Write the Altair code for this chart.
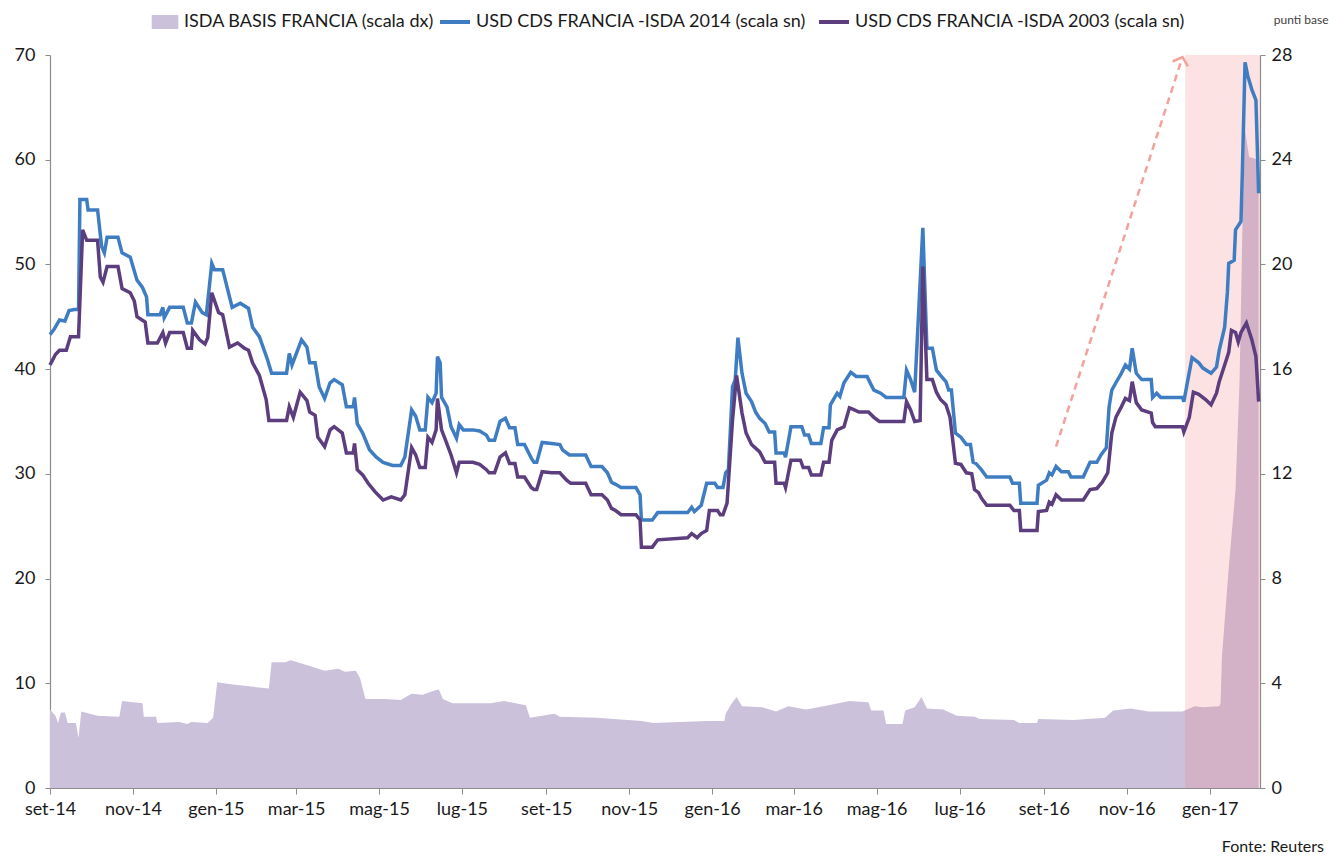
import altair as alt
import pandas as pd

# ---------------- data ----------------
name_basis = "ISDA BASIS FRANCIA (scala dx)"
name_14 = "USD CDS FRANCIA -ISDA 2014 (scala sn)"
name_03 = "USD CDS FRANCIA -ISDA 2003 (scala sn)"

cds14_dates = [
    "2014-09-01", "2014-09-04", "2014-09-08", "2014-09-12", "2014-09-15", "2014-09-19", "2014-09-22",
    "2014-09-23", "2014-09-28", "2014-09-29", "2014-10-06", "2014-10-09", "2014-10-11", "2014-10-13",
    "2014-10-21", "2014-10-24", "2014-10-30", "2014-11-04", "2014-11-08", "2014-11-11", "2014-11-12",
    "2014-11-21", "2014-11-23", "2014-11-24", "2014-11-28", "2014-12-08", "2014-12-11", "2014-12-14",
    "2014-12-17", "2014-12-22", "2014-12-25", "2014-12-29", "2014-12-31", "2015-01-06", "2015-01-13",
    "2015-01-19", "2015-01-25", "2015-01-28", "2015-02-02", "2015-02-08", "2015-02-11", "2015-02-22",
    "2015-02-24", "2015-02-26", "2015-03-05", "2015-03-09", "2015-03-11", "2015-03-15", "2015-03-18",
    "2015-03-22", "2015-03-26", "2015-03-29", "2015-04-04", "2015-04-07", "2015-04-12", "2015-04-13",
    "2015-04-15", "2015-04-19", "2015-04-24", "2015-04-29", "2015-05-04", "2015-05-11", "2015-05-17",
    "2015-05-20", "2015-05-25", "2015-05-28", "2015-05-31", "2015-06-04", "2015-06-06", "2015-06-09",
    "2015-06-12", "2015-06-13", "2015-06-15", "2015-06-16", "2015-06-20", "2015-06-23", "2015-06-27",
    "2015-06-29", "2015-07-02", "2015-07-09", "2015-07-14", "2015-07-19", "2015-07-21", "2015-07-25",
    "2015-07-29", "2015-08-02", "2015-08-05", "2015-08-09", "2015-08-11", "2015-08-16", "2015-08-21",
    "2015-08-23", "2015-08-25", "2015-08-29", "2015-09-05", "2015-09-11", "2015-09-13", "2015-09-18",
    "2015-09-30", "2015-10-04", "2015-10-12", "2015-10-16", "2015-10-19", "2015-10-22", "2015-10-26",
    "2015-11-06", "2015-11-09", "2015-11-10", "2015-11-18", "2015-11-22", "2015-12-14", "2015-12-17",
    "2015-12-19", "2015-12-24", "2015-12-28", "2016-01-03", "2016-01-05", "2016-01-09", "2016-01-11",
    "2016-01-13", "2016-01-16", "2016-01-18", "2016-01-20", "2016-01-23", "2016-01-26", "2016-01-30",
    "2016-02-02", "2016-02-05", "2016-02-09", "2016-02-12", "2016-02-16", "2016-02-17", "2016-02-23",
    "2016-02-24", "2016-02-28", "2016-03-07", "2016-03-09", "2016-03-12", "2016-03-14", "2016-03-21",
    "2016-03-23", "2016-03-27", "2016-03-28", "2016-04-02", "2016-04-04", "2016-04-07", "2016-04-12",
    "2016-04-16", "2016-04-24", "2016-04-27", "2016-04-29", "2016-05-04", "2016-05-08", "2016-05-21",
    "2016-05-23", "2016-05-26", "2016-05-29", "2016-06-04", "2016-06-07", "2016-06-11", "2016-06-14",
    "2016-06-17", "2016-06-21", "2016-06-23", "2016-06-25", "2016-06-28", "2016-07-02", "2016-07-06",
    "2016-07-09", "2016-07-11", "2016-07-13", "2016-07-17", "2016-07-21", "2016-08-07", "2016-08-09",
    "2016-08-14", "2016-08-15", "2016-08-27", "2016-08-28", "2016-09-03", "2016-09-05", "2016-09-07",
    "2016-09-10", "2016-09-14", "2016-09-19", "2016-09-21", "2016-09-30", "2016-10-05", "2016-10-10",
    "2016-10-13", "2016-10-17", "2016-10-19", "2016-10-21", "2016-10-24", "2016-10-28", "2016-10-31",
    "2016-11-03", "2016-11-05", "2016-11-08", "2016-11-12", "2016-11-19", "2016-11-20", "2016-11-23",
    "2016-11-26", "2016-12-12", "2016-12-13", "2016-12-15", "2016-12-19", "2016-12-24", "2016-12-27",
    "2017-01-02", "2017-01-06", "2017-01-08", "2017-01-12", "2017-01-14", "2017-01-15", "2017-01-19",
    "2017-01-20", "2017-01-24", "2017-01-25", "2017-01-27", "2017-01-29", "2017-02-01", "2017-02-04",
    "2017-02-06",
]
cds14_vals = [
    43.3, 43.8, 44.7, 44.6, 45.6, 45.7, 45.7,
    56.2, 56.2, 55.2, 55.2, 51.7, 51.1, 52.6,
    52.6, 51.1, 50.7, 48.5, 47.8, 46.9, 45.2,
    45.2, 45.9, 44.9, 45.9, 45.9, 44.4, 44.4,
    46.4, 45.4, 45.2, 50.1, 49.5, 49.5, 45.9,
    46.3, 45.8, 44.0, 43.1, 40.9, 39.6, 39.6,
    41.5, 40.4, 42.8, 42.1, 40.6, 40.6, 38.3,
    37.2, 38.7, 39.0, 38.5, 36.4, 36.4, 37.3,
    34.8, 33.9, 32.3, 31.6, 31.1, 30.8, 30.8,
    31.6, 36.1, 35.5, 34.2, 34.2, 37.3, 36.8,
    37.7, 41.2, 40.6, 37.3, 36.4, 34.5, 33.4,
    34.7, 34.2, 34.2, 34.1, 33.7, 33.2, 33.2,
    35.0, 35.3, 34.4, 34.4, 32.8, 32.8, 31.5,
    31.1, 31.1, 33.0, 32.9, 32.8, 32.3, 31.8,
    31.8, 30.7, 30.7, 30.1, 29.2, 29.0, 28.7,
    28.7, 28.0, 25.6, 25.6, 26.3, 26.3, 26.8,
    26.4, 27.0, 29.1, 29.1, 28.7, 28.7, 30.1,
    30.4, 38.3, 39.0, 43.0, 39.6, 37.7, 36.9,
    35.9, 35.3, 34.8, 34.0, 34.0, 32.0, 32.0,
    31.6, 34.5, 34.5, 33.7, 33.7, 32.9, 32.9,
    34.4, 34.4, 36.6, 37.7, 37.4, 38.7, 39.7,
    39.3, 39.3, 38.5, 38.0, 37.7, 37.3, 37.3,
    39.9, 39.0, 37.8, 53.5, 42.0, 42.0, 39.9,
    39.4, 38.8, 38.0, 38.0, 33.9, 33.5, 32.8,
    32.8, 31.1, 31.0, 30.4, 29.7, 29.7, 29.1,
    29.1, 27.2, 27.2, 28.9, 29.4, 30.1, 29.9,
    30.7, 30.2, 30.2, 29.7, 29.7, 31.1, 31.1,
    31.8, 32.5, 36.4, 38.0, 38.7, 39.6, 40.4,
    40.0, 42.0, 39.6, 39.0, 39.0, 37.3, 37.7,
    37.3, 37.3, 36.9, 38.3, 41.1, 40.6, 40.1,
    39.6, 40.2, 41.8, 44.0, 47.3, 50.1, 50.4,
    53.3, 54.1, 58.7, 69.3, 68.0, 66.7, 65.7,
    56.8,
]

cds03_dates = [
    "2014-09-01", "2014-09-05", "2014-09-08", "2014-09-13", "2014-09-16", "2014-09-22", "2014-09-25",
    "2014-09-28", "2014-10-06", "2014-10-08", "2014-10-10", "2014-10-13", "2014-10-21", "2014-10-24",
    "2014-10-30", "2014-11-02", "2014-11-04", "2014-11-10", "2014-11-12", "2014-11-19", "2014-11-23",
    "2014-11-25", "2014-11-28", "2014-12-08", "2014-12-11", "2014-12-14", "2014-12-15", "2014-12-20",
    "2014-12-24", "2014-12-26", "2014-12-29", "2015-01-03", "2015-01-06", "2015-01-11", "2015-01-17",
    "2015-01-22", "2015-01-25", "2015-01-28", "2015-02-02", "2015-02-07", "2015-02-09", "2015-02-22",
    "2015-02-24", "2015-02-27", "2015-03-04", "2015-03-09", "2015-03-11", "2015-03-15", "2015-03-17",
    "2015-03-22", "2015-03-26", "2015-03-29", "2015-04-04", "2015-04-07", "2015-04-12", "2015-04-13",
    "2015-04-15", "2015-04-19", "2015-04-23", "2015-04-28", "2015-05-04", "2015-05-10", "2015-05-17",
    "2015-05-20", "2015-05-25", "2015-05-28", "2015-05-31", "2015-06-04", "2015-06-06", "2015-06-09",
    "2015-06-12", "2015-06-13", "2015-06-16", "2015-06-19", "2015-06-23", "2015-06-27", "2015-06-29",
    "2015-07-09", "2015-07-14", "2015-07-19", "2015-07-21", "2015-07-25", "2015-07-29", "2015-08-02",
    "2015-08-05", "2015-08-09", "2015-08-11", "2015-08-16", "2015-08-21", "2015-08-23", "2015-08-25",
    "2015-08-29", "2015-09-05", "2015-09-11", "2015-09-16", "2015-09-19", "2015-09-30", "2015-10-04",
    "2015-10-12", "2015-10-16", "2015-10-19", "2015-10-22", "2015-10-26", "2015-11-06", "2015-11-09",
    "2015-11-10", "2015-11-18", "2015-11-22", "2015-12-14", "2015-12-17", "2015-12-21", "2015-12-24",
    "2015-12-28", "2015-12-30", "2016-01-05", "2016-01-07", "2016-01-09", "2016-01-12", "2016-01-16",
    "2016-01-19", "2016-01-23", "2016-01-26", "2016-01-30", "2016-02-05", "2016-02-09", "2016-02-16",
    "2016-02-17", "2016-02-23", "2016-02-24", "2016-02-28", "2016-03-06", "2016-03-08", "2016-03-12",
    "2016-03-14", "2016-03-21", "2016-03-23", "2016-03-27", "2016-03-29", "2016-04-02", "2016-04-07",
    "2016-04-11", "2016-04-13", "2016-04-18", "2016-04-25", "2016-04-29", "2016-05-03", "2016-05-21",
    "2016-05-23", "2016-05-26", "2016-05-29", "2016-06-02", "2016-06-04", "2016-06-07", "2016-06-11",
    "2016-06-14", "2016-06-17", "2016-06-21", "2016-06-24", "2016-06-28", "2016-07-02", "2016-07-06",
    "2016-07-10", "2016-07-12", "2016-07-15", "2016-07-17", "2016-07-21", "2016-08-07", "2016-08-10",
    "2016-08-14", "2016-08-15", "2016-08-27", "2016-08-28", "2016-09-03", "2016-09-05", "2016-09-07",
    "2016-09-10", "2016-09-14", "2016-09-30", "2016-10-05", "2016-10-10", "2016-10-14", "2016-10-18",
    "2016-10-21", "2016-10-24", "2016-10-28", "2016-10-31", "2016-11-03", "2016-11-05", "2016-11-08",
    "2016-11-12", "2016-11-19", "2016-11-20", "2016-11-22", "2016-12-12", "2016-12-13", "2016-12-17",
    "2016-12-20", "2016-12-24", "2016-12-29", "2017-01-02", "2017-01-06", "2017-01-08", "2017-01-12",
    "2017-01-15", "2017-01-17", "2017-01-20", "2017-01-22", "2017-01-24", "2017-01-28", "2017-02-01",
    "2017-02-04", "2017-02-06",
]
cds03_vals = [
    40.4, 41.4, 41.8, 41.8, 43.1, 43.1, 53.3,
    52.3, 52.3, 48.8, 48.3, 49.8, 49.8, 47.7,
    47.3, 46.5, 45.0, 44.5, 42.5, 42.5, 43.5,
    42.5, 43.5, 43.5, 42.0, 42.0, 43.7, 42.8,
    42.4, 43.0, 47.3, 45.4, 45.2, 42.1, 42.5,
    42.0, 41.8, 40.6, 39.4, 37.1, 35.1, 35.1,
    36.4, 35.4, 37.8, 37.0, 35.9, 35.6, 33.5,
    32.6, 34.2, 34.5, 33.9, 32.0, 32.0, 32.9,
    30.4, 29.9, 29.1, 28.3, 27.5, 27.8, 27.5,
    28.0, 32.5, 31.8, 30.6, 30.6, 33.5, 33.0,
    34.2, 37.2, 34.2, 33.2, 31.8, 30.1, 31.1,
    31.1, 30.9, 30.4, 30.1, 30.1, 31.6, 32.0,
    31.0, 31.0, 29.7, 29.7, 28.7, 28.5, 28.5,
    30.2, 30.1, 30.1, 29.4, 29.1, 29.1, 28.0,
    28.0, 27.5, 26.7, 26.5, 26.1, 26.1, 25.6,
    23.0, 23.0, 23.7, 23.9, 24.3, 23.9, 24.3,
    24.6, 26.5, 26.5, 26.1, 26.1, 27.2, 35.1,
    39.4, 35.8, 33.9, 32.8, 32.1, 31.1, 31.1,
    29.1, 29.1, 28.7, 31.3, 31.3, 30.6, 30.6,
    29.9, 29.9, 31.1, 31.1, 33.2, 34.2, 34.5,
    36.3, 36.2, 35.9, 35.9, 35.4, 35.0, 35.0,
    36.9, 36.1, 35.0, 35.1, 49.8, 39.0, 39.0,
    37.8, 37.1, 36.6, 35.4, 31.0, 30.9, 30.1,
    30.0, 28.5, 28.2, 27.7, 27.0, 27.0, 26.5,
    26.5, 24.6, 24.6, 26.4, 26.5, 27.3, 27.1,
    28.0, 27.5, 27.5, 28.5, 28.6, 29.2, 30.1,
    33.9, 35.4, 36.4, 37.2, 37.0, 38.8, 36.8,
    36.1, 35.8, 34.9, 34.5, 34.5, 34.0, 35.4,
    37.8, 37.6, 37.1, 36.6, 37.7, 38.8, 40.4,
    41.6, 43.7, 43.5, 42.6, 43.5, 44.4, 42.8,
    41.2, 36.9,
]

basis_dates = [
    "2014-09-01", "2014-09-05", "2014-09-07", "2014-09-09", "2014-09-12", "2014-09-14", "2014-09-20",
    "2014-09-22", "2014-09-24", "2014-10-06", "2014-10-22", "2014-10-24", "2014-11-08", "2014-11-09",
    "2014-11-18", "2014-11-19", "2014-12-05", "2014-12-11", "2014-12-14", "2014-12-26", "2014-12-30",
    "2015-01-02", "2015-01-12", "2015-02-09", "2015-02-11", "2015-02-21", "2015-02-25", "2015-03-10",
    "2015-03-22", "2015-04-01", "2015-04-06", "2015-04-14", "2015-04-17", "2015-04-21", "2015-05-05",
    "2015-05-17", "2015-05-25", "2015-06-02", "2015-06-11", "2015-06-14", "2015-06-17", "2015-06-24",
    "2015-07-22", "2015-08-01", "2015-08-17", "2015-08-20", "2015-08-29", "2015-09-07", "2015-09-11",
    "2015-10-08", "2015-11-10", "2015-11-19", "2015-12-28", "2016-01-10", "2016-01-11", "2016-01-15",
    "2016-01-19", "2016-01-23", "2016-02-07", "2016-02-17", "2016-02-26", "2016-03-10", "2016-03-23",
    "2016-04-11", "2016-04-25", "2016-04-27", "2016-05-06", "2016-05-08", "2016-05-20", "2016-05-22",
    "2016-05-29", "2016-06-03", "2016-06-07", "2016-06-19", "2016-06-29", "2016-07-12", "2016-07-16",
    "2016-08-10", "2016-08-14", "2016-08-27", "2016-08-28", "2016-09-23", "2016-10-16", "2016-10-22",
    "2016-11-04", "2016-11-17", "2016-12-12", "2016-12-21", "2016-12-27", "2017-01-08", "2017-01-09",
    "2017-01-10", "2017-01-15", "2017-01-20", "2017-01-23", "2017-01-25", "2017-01-27", "2017-01-30",
    "2017-02-06",
]
basis_vals = [
    3.00, 2.76, 2.48, 2.88, 2.88, 2.48, 2.48,
    1.92, 2.92, 2.76, 2.72, 3.32, 3.24, 2.72,
    2.72, 2.48, 2.52, 2.44, 2.52, 2.48, 2.68,
    4.04, 3.96, 3.80, 4.80, 4.80, 4.88, 4.68,
    4.48, 4.56, 4.44, 4.48, 4.20, 3.40, 3.40,
    3.36, 3.60, 3.56, 3.72, 3.76, 3.40, 3.24,
    3.24, 3.32, 3.16, 2.68, 2.76, 2.84, 2.72,
    2.68, 2.56, 2.48, 2.56, 2.56, 2.84, 3.20,
    3.48, 3.12, 3.08, 2.92, 3.12, 3.00, 3.12,
    3.32, 3.28, 2.96, 2.96, 2.44, 2.44, 2.96,
    3.08, 3.48, 3.04, 3.00, 2.76, 2.72, 2.64,
    2.60, 2.48, 2.48, 2.64, 2.60, 2.68, 2.96,
    3.04, 2.92, 2.92, 3.12, 3.08, 3.12, 3.24,
    5.00, 8.40, 11.40, 15.60, 21.20, 25.10, 24.10,
    24.00,
]

highlight_start = ["2016-12-14"]
highlight_end = ["2017-02-07"]
arrow_dates = ["2016-09-10", "2016-12-12"]
arrow_vals = [32.6, 69.8]

x_domain = [(2014, 9, 1), (2017, 2, 7)]
tick_months = [(2014, 9), (2014, 11), (2015, 1), (2015, 3), (2015, 5), (2015, 7), (2015, 9),
               (2015, 11), (2016, 1), (2016, 3), (2016, 5), (2016, 7), (2016, 9), (2016, 11),
               (2017, 1)]
left_ticks = [0, 10, 20, 30, 40, 50, 60, 70]
right_ticks = [0, 4, 8, 12, 16, 20, 24, 28]

# ---------------- styling ----------------
FONT = "Lato, sans-serif"
C_BLUE = "#3F7DC3"
C_PURPLE = "#5C3D7E"
C_AREA = "#CBC1DB"
C_PINK = "#F07C7C"
C_ARROW = "#F4A09B"

basis_df = pd.DataFrame({"date": basis_dates, "basis": basis_vals, "serie": name_basis})
c14_df = pd.DataFrame({"date": cds14_dates, "cds": cds14_vals, "serie": name_14})
c03_df = pd.DataFrame({"date": cds03_dates, "cds": cds03_vals, "serie": name_03})
hl_df = pd.DataFrame({"start": highlight_start, "end": highlight_end})
arrow_df = pd.DataFrame({"d0": [arrow_dates[0]], "d1": [arrow_dates[1]],
                         "v0": [arrow_vals[0]], "v1": [arrow_vals[1]]})
head_df = pd.DataFrame({"date": [arrow_dates[1]], "cds": [arrow_vals[1]]})

month_names = "['gen','feb','mar','apr','mag','giu','lug','ago','set','ott','nov','dic']"
xscale = alt.Scale(type="utc", nice=False,
                   domain=[alt.DateTime(year=y, month=m, date=d, utc=True) for (y, m, d) in x_domain])
xaxis = alt.Axis(
    values=[alt.DateTime(year=y, month=m, date=1, utc=True) for (y, m) in tick_months],
    labelExpr=month_names + "[utcmonth(datum.value)] + '-' + utcFormat(datum.value, '%y')",
    tickSize=6, labelPadding=6, labelFlush=False, labelOverlap=False, title=None,
)


def X(field):
    return alt.X(f"{field}:T", scale=xscale, axis=xaxis, title=None)


left_scale = alt.Scale(domain=[0, 70], nice=False, zero=True)
left_axis = alt.Axis(orient="left", values=left_ticks, tickSize=5, labelPadding=10, title=None)

area = alt.Chart(basis_df).mark_area(interpolate="linear").encode(
    x=X("date"),
    y=alt.Y("basis:Q", scale=alt.Scale(domain=[0, 28], nice=False, zero=True),
            title="punti base",
            axis=alt.Axis(orient="right", values=right_ticks, tickSize=5, labelPadding=6,
                          title="punti base", titleAngle=0, titleAlign="right",
                          titleBaseline="alphabetic", titleX=68, titleY=-32,
                          titleFont=FONT, titleFontSize=12, titleFontWeight="normal",
                          titleColor="#404040")),
    fill=alt.Fill("serie:N", scale=alt.Scale(domain=[name_basis], range=[C_AREA]),
                  legend=alt.Legend(title=None, orient="none", legendX=106, legendY=-42,
                                    symbolType="M-1.9,-1H1.9V1H-1.9Z", symbolSize=196,
                                    symbolStrokeWidth=0, labelOffset=10)),
)

band = alt.Chart(hl_df).mark_rect(color=C_PINK, opacity=0.22).encode(
    x=X("start"), x2="end:T"
)

stroke_scale = alt.Scale(domain=[name_14, name_03], range=[C_BLUE, C_PURPLE])
stroke_legend = alt.Legend(title=None, orient="none", legendX=388, legendY=-50,
                           direction="horizontal", symbolType="stroke", symbolSize=900,
                           symbolStrokeWidth=4, labelOffset=4, columnPadding=4)

line14 = alt.Chart(c14_df).mark_line(strokeWidth=3.5, interpolate="linear").encode(
    x=X("date"),
    y=alt.Y("cds:Q", scale=left_scale, axis=left_axis, title=None),
    stroke=alt.Stroke("serie:N", scale=stroke_scale, legend=stroke_legend),
)
line03 = alt.Chart(c03_df).mark_line(strokeWidth=3.5, interpolate="linear").encode(
    x=X("date"),
    y=alt.Y("cds:Q", scale=left_scale, axis=left_axis, title=None),
    stroke=alt.Stroke("serie:N", scale=stroke_scale, legend=stroke_legend),
)

arrow = alt.Chart(arrow_df).mark_rule(color=C_ARROW, strokeWidth=2.5, strokeDash=[7, 5]).encode(
    x=X("d0"), x2="d1:T",
    y=alt.Y("v0:Q", scale=left_scale, axis=left_axis, title=None), y2="v1:Q",
)
head = alt.Chart(head_df).mark_point(
    shape="M-1,0.9L0,0L1,0.9", filled=False, angle=18, size=260,
    stroke=C_ARROW, strokeWidth=2.5, opacity=1,
).encode(
    x=X("date"),
    y=alt.Y("cds:Q", scale=left_scale, axis=left_axis, title=None),
)

left_group = alt.layer(line14, line03, arrow, head)

chart = alt.layer(area, band, left_group).resolve_scale(y="independent").properties(
    width=1210, height=733,
    autosize=alt.AutoSizeParams(type="none"),
    padding={"left": 42, "top": 47, "right": 70, "bottom": 70},
    title=alt.TitleParams("Fonte: Reuters", orient="bottom", anchor="end", frame="group",
                          dx=64, offset=21, font=FONT, fontSize=16, fontWeight="normal",
                          color="#1a1a1a"),
).configure_axis(
    labelFont=FONT, labelFontSize=18, labelColor="#1a1a1a", domainColor="#8c8c8c",
    tickColor="#8c8c8c", grid=False, domainWidth=1.2,
).configure_legend(
    labelFont=FONT, labelFontSize=18, labelColor="#1a1a1a", labelLimit=0, padding=0,
).configure_view(stroke=None)

chart.save("out.html", embed_options={"renderer": "svg", "actions": False})
